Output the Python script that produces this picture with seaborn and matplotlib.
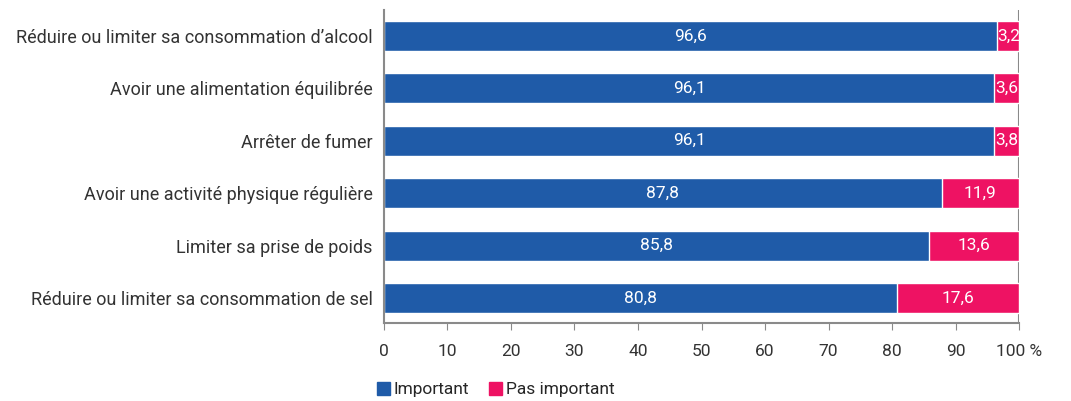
# plot.py
import seaborn as sns
import matplotlib.pyplot as plt
import matplotlib.patches as mpatches
import pandas as pd

# Data
categories = [
    "Réduire ou limiter sa consommation d\u2019alcool",
    "Avoir une alimentation équilibrée",
    "Arrêter de fumer",
    "Avoir une activité physique régulière",
    "Limiter sa prise de poids",
    "Réduire ou limiter sa consommation de sel",
]
important = [96.6, 96.1, 96.1, 87.8, 85.8, 80.8]
pas_important = [3.2, 3.6, 3.8, 11.9, 13.6, 17.6]
x_ticks = [0, 10, 20, 30, 40, 50, 60, 70, 80, 90, 100]
x_tick_labels = ["0", "10", "20", "30", "40", "50", "60", "70", "80", "90", "100 %"]

blue = "#1F5BA8"
pink = "#EE1263"

df = pd.DataFrame({"cat": categories, "imp": important, "pas": pas_important})
df["total"] = 100

sns.set_style("white")
plt.rcParams["font.family"] = ["Roboto", "DejaVu Sans"]

fig = plt.figure(figsize=(10.71, 4.01), dpi=100)
ax = fig.add_axes([0.3585, 0.1945, 0.593, 0.7805])

# pink fills to 100, blue drawn on top
sns.barplot(data=df, x="total", y="cat", color=pink, width=0.57,
            saturation=1, ax=ax, orient="h")
sns.barplot(data=df, x="imp", y="cat", color=blue, width=0.57,
            saturation=1, ax=ax, orient="h")

# value labels
for i, row in df.iterrows():
    ax.text(row["imp"] / 2, i, f"{row['imp']:.1f}".replace(".", ","),
            ha="center", va="center", color="white", fontsize=12.5)
    ax.text((row["imp"] + 100) / 2, i, f"{row['pas']:.1f}".replace(".", ","),
            ha="center", va="center", color="white", fontsize=12.5)

ax.set_xlim(0, 100)
ax.set_ylim(5.477, -0.496)
ax.set_xticks(x_ticks)
ax.set_xticklabels(x_tick_labels, fontsize=12.5, color="#333333")
ax.tick_params(axis="y", labelsize=13, labelcolor="#333333", length=0, pad=8)
ax.tick_params(axis="x", length=5, color="#8a8a8a", pad=10, bottom=True)
ax.set_xlabel("")
ax.set_ylabel("")

for side in ["top", "right"]:
    ax.spines[side].set_visible(False)
for side in ["left", "bottom"]:
    ax.spines[side].set_color("#8a8a8a")
    ax.spines[side].set_linewidth(1.5)

# right reference line at 100
ax.axvline(100, color="#8a8a8a", lw=1.5, zorder=0)

handles = [
    mpatches.Patch(color=blue, label="Important"),
    mpatches.Patch(color=pink, label="Pas important"),
]
fig.legend(handles=handles, loc="lower left", bbox_to_anchor=(0.337, -0.03),
           ncol=2, frameon=False, fontsize=12.5, handlelength=0.75,
           handleheight=0.75, handletextpad=0.2, columnspacing=1.2)

plt.savefig("out.png", dpi=100)
